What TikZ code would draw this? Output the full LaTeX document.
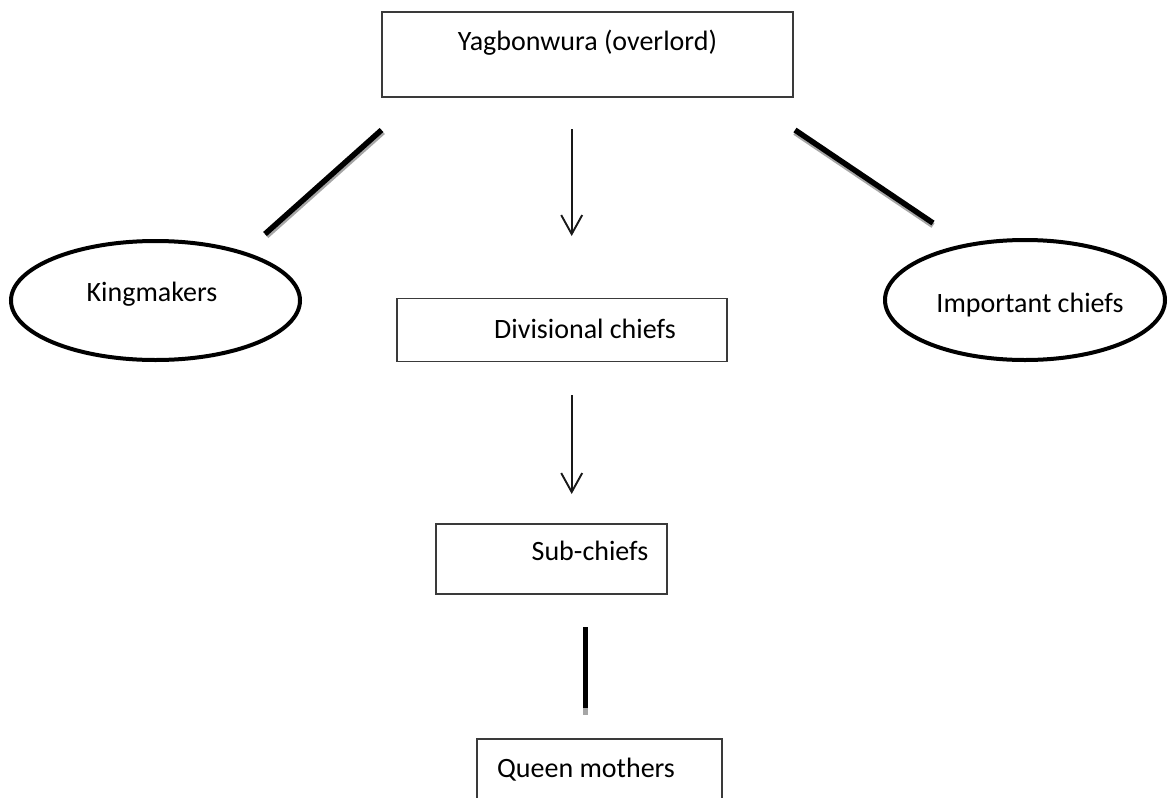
\documentclass[tikz,border=0pt]{standalone}
\usepackage{fontspec}
\setmainfont{Carlito}
\usetikzlibrary{arrows.meta,shapes.geometric}
\definecolor{boxline}{HTML}{3A3A3A}
\tikzset{
  box/.style={draw=boxline, line width=1.4pt, rectangle, inner sep=0pt},
  oval/.style={draw=black, line width=4pt, ellipse, inner sep=0pt},
  txt/.style={anchor=base, inner sep=0pt, font=\fontsize{28}{34}\selectfont},
  thin arrow/.style={draw=black!90, line width=1.6pt, -{Straight Barb[length=19pt,width=21pt,line width=1.9pt]}},
  heavy/.style={draw=black, line width=5.5pt},
  shade line/.style={draw=black!35, line width=5.5pt},
}
\begin{document}
\begin{tikzpicture}[x=1pt,y=-1pt]
\useasboundingbox (0,0) rectangle (1168,798);
\clip (0,0) rectangle (1168,798);
\fill[white] (0,0) rectangle (1168,798);

% boxes
\node[box, minimum width=411pt, minimum height=85pt] (top) at (587.5,54.5) {};
\node[txt] (toptxt) at (587.5,50) {Yagbonwura (overlord)};

\node[box, minimum width=330pt, minimum height=63.5pt] (div) at (562,330) {};
\node[txt] (divtxt) at (585,338) {Divisional chiefs};

\node[box, minimum width=231pt, minimum height=70pt] (sub) at (551.5,559) {};
\node[txt] (subtxt) at (590,560) {Sub-chiefs};

\node[box, minimum width=245pt, minimum height=80pt] (queen) at (599.5,779) {};
\node[txt] (queentxt) at (586,777) {Queen mothers};

% ellipses
\node[oval, minimum width=289pt, minimum height=119pt] (king) at (155.5,300.5) {};
\node[txt] (kingtxt) at (152,301.5) {Kingmakers};

\node[oval, minimum width=280pt, minimum height=120pt] (imp) at (1025,300) {};
\node[txt] (imptxt) at (1030,312.5) {Important chiefs};

% connector end points
\coordinate (kA) at (381.5,130);
\coordinate (kB) at (265,234);
\coordinate (iA) at (795,130);
\coordinate (iB) at (933,223);
\coordinate (a1s) at (571.7,129);
\coordinate (a1e) at (571.7,236);
\coordinate (a2s) at (571.7,395);
\coordinate (a2e) at (571.7,494);
\coordinate (vA) at (585.7,627);
\coordinate (vB) at (585.7,708);

% heavy lines with shadow
\draw[shade line] ([shift={(1.5,2)}]kA) -- ([shift={(1.5,2)}]kB);
\draw[heavy] (kA) -- (kB);
\draw[shade line] ([shift={(0,2.5)}]iA) -- ([shift={(0,2.5)}]iB);
\draw[heavy] (iA) -- (iB);
\draw[shade line] ([shift={(0,3)}]vA) -- ([shift={(0,7)}]vB);
\draw[heavy] (vA) -- (vB);

% arrows
\draw[thin arrow] (a1s) -- (a1e);
\draw[thin arrow] (a2s) -- (a2e);
\end{tikzpicture}
\end{document}
